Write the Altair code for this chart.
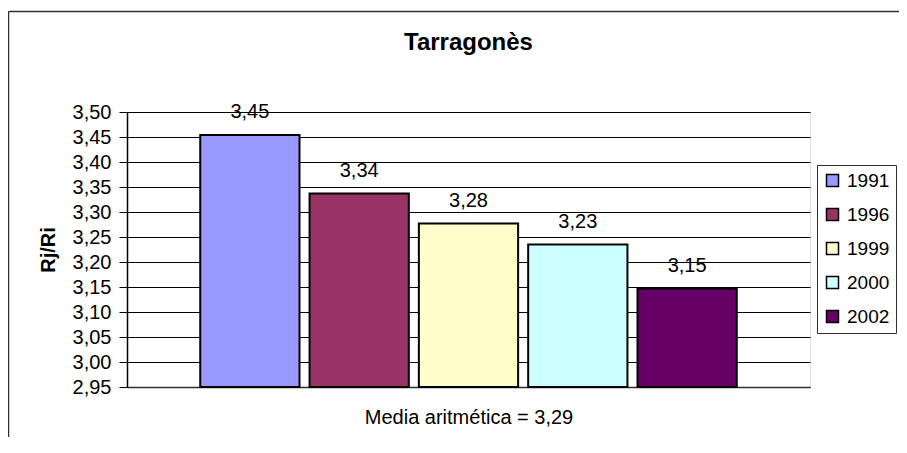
import altair as alt
import pandas as pd

years = ["1991", "1996", "1999", "2000", "2002"]
values = [3.454, 3.337, 3.277, 3.235, 3.147]
colors = ["#9999FF", "#993366", "#FFFFCC", "#CCFFFF", "#660066"]
y_ticks = [2.95, 3.00, 3.05, 3.10, 3.15, 3.20, 3.25, 3.30, 3.35, 3.40, 3.45, 3.50]
title_text = "Tarragonès"
x_title = "Media aritmética = 3,29"
y_title = "Rj/Ri"

df = pd.DataFrame({"year": years, "value": values})
FONT = "Liberation Sans"

base = alt.Chart(df).transform_calculate(
    label="replace(format(datum.value, '.2f'), '.', ',')"
)

x_enc = alt.X(
    "year:N",
    sort=years,
    scale=alt.Scale(paddingInner=0.092, paddingOuter=0.67),
    axis=alt.Axis(
        title=x_title, labels=False, ticks=False, domain=True,
        domainColor="#303030", domainWidth=1.5,
        titleFont=FONT, titleFontSize=20, titleFontWeight="normal",
        titleColor="black", titlePadding=20,
    ),
)

y_enc = alt.Y(
    "value:Q",
    scale=alt.Scale(domain=[2.95, 3.5], zero=False, nice=False),
    axis=alt.Axis(
        title=y_title, values=y_ticks, tickCount=24, labelOverlap=False,
        labelExpr="replace(format(datum.value, '.2f'), '.', ',')",
        labelFont=FONT, labelFontSize=20, labelColor="black",
        tickSize=8, tickColor="black", labelPadding=8,
        domainColor="black", domainWidth=1.5,
        grid=True, gridColor="black", gridWidth=1, gridOpacity=1,
        titleFont=FONT, titleFontSize=20, titleFontWeight="bold",
        titleColor="black", titlePadding=14,
    ),
)

bars = base.mark_bar(stroke="black", strokeWidth=2).encode(
    x=x_enc,
    y=y_enc,
    y2=alt.datum(2.95),
    fill=alt.Fill(
        "year:N",
        sort=years,
        scale=alt.Scale(domain=years, range=colors),
        legend=alt.Legend(
            title=None, orient="none", legendX=690, legendY=53,
            direction="vertical",
            symbolType="square", symbolSize=144,
            symbolStrokeColor="black", symbolStrokeWidth=1.5,
            labelFont=FONT, labelFontSize=19, labelColor="black",
            labelOffset=5, rowPadding=14, padding=6,
            strokeColor="#303030", fillColor="white",
        ),
    ),
)

labels = base.mark_text(
    font=FONT, fontSize=20, color="black", baseline="alphabetic", dy=-17
).encode(
    x=alt.X("year:N", sort=years),
    y=alt.Y("value:Q"),
    text="label:N",
)

one = pd.DataFrame({"a": [0]})
frame_left = alt.Chart(one).mark_rule(stroke="#303030", strokeWidth=1.5).encode(
    x=alt.value(-118.5), y=alt.value(-100.5), y2=alt.value(400),
)
frame_top = alt.Chart(one).mark_rule(stroke="#303030", strokeWidth=1.5).encode(
    x=alt.value(-118.5), x2=alt.value(800), y=alt.value(-100.5),
)

chart = alt.layer(frame_left, frame_top, bars, labels).properties(
    width=683,
    height=275,
    padding={"left": 119, "top": 104, "right": 89, "bottom": 50},
    autosize=alt.AutoSizeParams(type="none"),
    title=alt.TitleParams(
        text=title_text, font=FONT, fontSize=24, fontWeight="bold",
        color="black", anchor="middle", frame="group",
        baseline="alphabetic", offset=-63,
    ),
).configure_view(
    fill="#C0C0C0", stroke="#808080", strokeWidth=2
).configure(background="white")

chart.save("out.html", embed_options={"renderer": "svg", "actions": False})
